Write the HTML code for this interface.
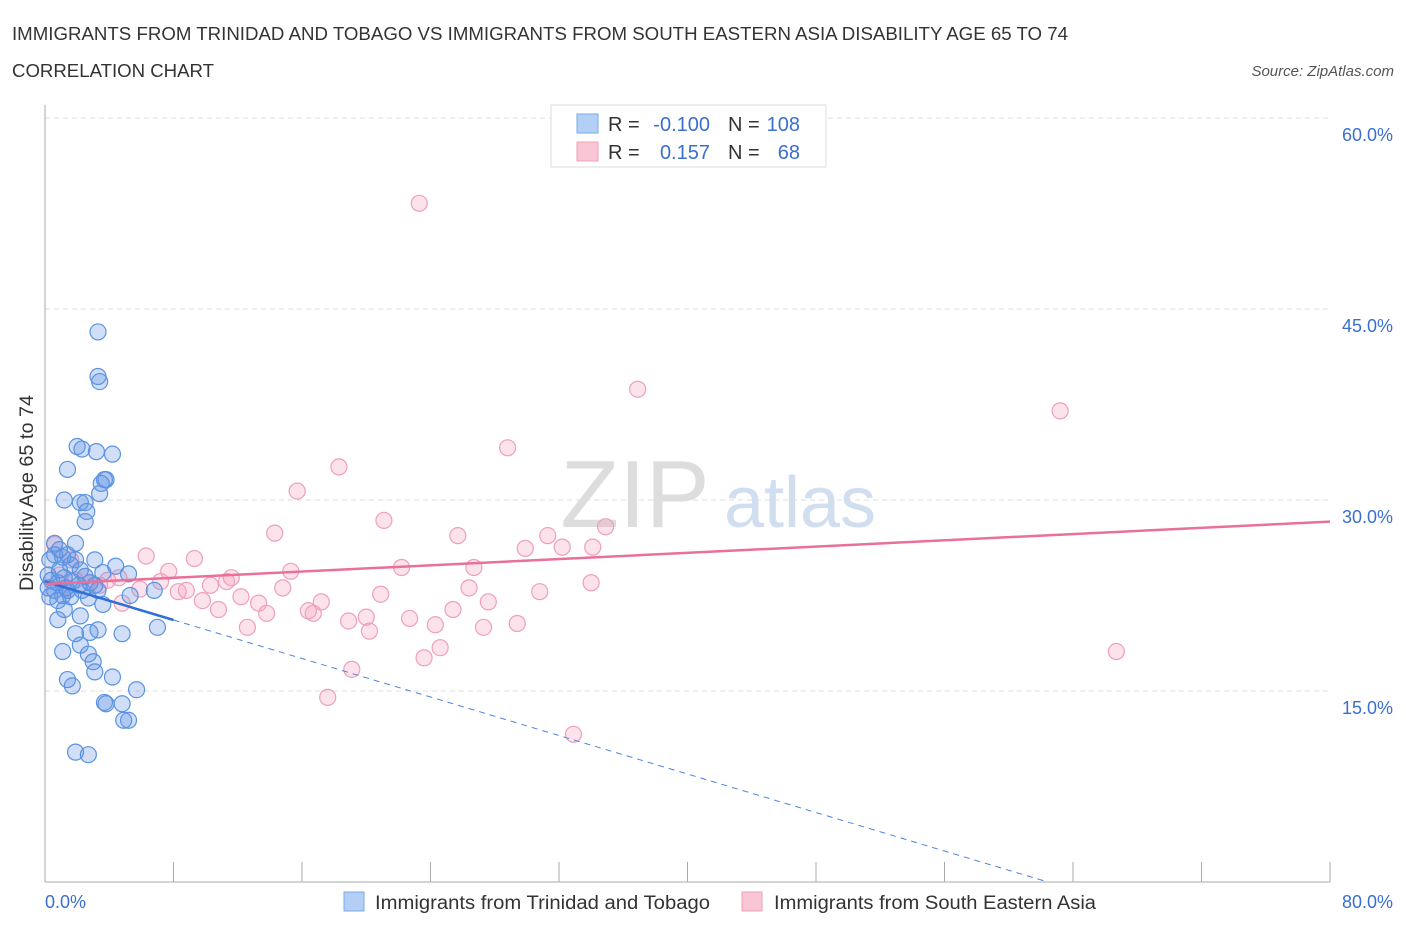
<!DOCTYPE html>
<html><head><meta charset="utf-8"><style>
body{margin:0;background:#fff;font-family:"Liberation Sans",sans-serif;}
svg text{font-family:"Liberation Sans",sans-serif;}
</style></head><body>
<svg id="chart" width="1406" height="930" xmlns="http://www.w3.org/2000/svg">
<text x="12" y="40" font-size="18" fill="#333" textLength="1056" lengthAdjust="spacingAndGlyphs">IMMIGRANTS FROM TRINIDAD AND TOBAGO VS IMMIGRANTS FROM SOUTH EASTERN ASIA DISABILITY AGE 65 TO 74</text>
<text x="12" y="77" font-size="18" fill="#333" textLength="202" lengthAdjust="spacingAndGlyphs">CORRELATION CHART</text>
<text x="1394" y="76" font-size="15" fill="#555" font-style="italic" text-anchor="end">Source: ZipAtlas.com</text>
<g><text x="635" y="527" font-size="96" fill="#ddd" font-family="Liberation Serif" text-anchor="middle">ZIP</text><text x="800" y="527" font-size="72" fill="#d0def0" text-anchor="middle">atlas</text></g>
<g id="grid"></g>
<g id="axes"></g>
<g id="pts"></g>
<g id="trend"></g>
<g>
<rect x="551" y="105" width="275" height="62" fill="#fff" stroke="#ddd"/>
<rect x="577" y="114" width="21" height="19" fill="#b4cff5" stroke="#7aa8e8"/>
<rect x="577" y="142" width="21" height="19" fill="#f9c6d5" stroke="#eea0b8"/>
<text x="608" y="131" font-size="20" fill="#333">R = </text><text x="710" y="131" font-size="20" fill="#3a6fd0" text-anchor="end">-0.100</text>
<text x="728" y="131" font-size="20" fill="#333">N = </text><text x="800" y="131" font-size="20" fill="#3a6fd0" text-anchor="end">108</text>
<text x="608" y="159" font-size="20" fill="#333">R = </text><text x="710" y="159" font-size="20" fill="#3a6fd0" text-anchor="end">0.157</text>
<text x="728" y="159" font-size="20" fill="#333">N = </text><text x="800" y="159" font-size="20" fill="#3a6fd0" text-anchor="end">68</text>
</g>
<g>
<rect x="344" y="892" width="20" height="19" fill="#b4cff5" stroke="#7aa8e8"/>
<text x="375" y="909" font-size="19" fill="#333" textLength="335" lengthAdjust="spacingAndGlyphs">Immigrants from Trinidad and Tobago</text>
<rect x="742" y="892" width="20" height="19" fill="#f9c6d5" stroke="#eea0b8"/>
<text x="774" y="909" font-size="19" fill="#333" textLength="322" lengthAdjust="spacingAndGlyphs">Immigrants from South Eastern Asia</text>
</g>
<text transform="translate(33,493) rotate(-90)" font-size="19" fill="#333" text-anchor="middle" textLength="196" lengthAdjust="spacingAndGlyphs">Disability Age 65 to 74</text>
</svg>
<script>
const blueX=[3.3,3.3,3.4,2.0,2.3,3.2,4.2,1.4,3.7,3.8,3.5,3.4,1.2,2.2,2.5,2.6,2.5,1.9,0.6,0.9,3.1,4.4,5.2,3.6,1.4,3.3,6.8,5.3,2.7,3.6,1.2,2.2,0.8,7.0,1.9,2.8,3.3,4.8,2.2,1.1,2.7,3.0,3.1,4.2,1.4,1.7,5.7,3.7,3.8,4.8,4.9,5.2,1.9,2.7,0.3,0.6,1.1,1.6,0.2,0.4,0.8,1.2,1.7,2.1,2.5,2.8,0.6,1.1,0.3,1.6,1.9,2.2,0.9,0.2,1.4,2.3,0.8,3.1,1.3];
const blueY=[43.2,39.7,39.3,34.2,34.0,33.8,33.6,32.4,31.6,31.6,31.3,30.5,30.0,29.8,29.8,29.1,28.3,26.6,26.6,26.1,25.3,24.8,24.2,24.3,22.9,22.9,22.9,22.5,22.3,21.8,21.4,20.9,20.6,20.0,19.5,19.6,19.8,19.5,18.6,18.1,17.9,17.3,16.5,16.1,15.9,15.4,15.1,14.1,14.0,14.0,12.7,12.7,10.2,10.0,25.3,25.7,25.5,24.9,24.1,23.7,23.5,23.9,23.6,23.3,24.0,23.5,22.9,22.5,22.4,22.4,25.3,24.5,24.5,23.1,25.7,22.9,22.1,23.3,23.1];
const pinkX=[23.3,36.9,63.2,28.8,18.3,15.7,21.1,34.9,14.3,25.7,31.3,29.9,32.2,34.1,6.3,9.3,22.2,26.7,15.3,7.7,11.6,7.2,11.3,4.6,3.9,34.0,10.3,14.8,26.4,8.8,8.3,5.9,12.2,20.9,30.8,9.8,13.3,17.2,27.6,4.8,10.8,13.8,16.4,16.7,25.4,20.0,18.9,22.7,24.3,29.4,27.3,12.6,20.2,24.6,23.6,66.7,19.1,17.6,32.9,0.6,1.6,0.9,1.9,2.8,3.4,1.4,2.5];
const pinkY=[53.3,38.7,37.0,34.1,32.6,30.7,28.4,27.9,27.4,27.2,27.2,26.2,26.3,26.3,25.6,25.4,24.7,24.7,24.4,24.4,23.9,23.6,23.6,23.9,23.7,23.5,23.3,23.1,23.1,22.9,22.8,23.0,22.4,22.6,22.8,22.1,21.9,22.0,22.0,21.9,21.4,21.1,21.3,21.1,21.4,20.8,20.5,20.7,20.2,20.3,20.0,20.0,19.7,18.4,17.6,18.1,16.7,14.5,11.6,26.5,25.3,24.1,23.7,23.5,23.3,22.9,24.0];
const yTicks=[15,30,45,60];
const xTicks=[0,8,16,24,32,40,48,56,64,72,80];
const blueTrend=[23.6,-0.378];
const pinkTrend=[23.4,0.0613];
const NS='http://www.w3.org/2000/svg';
const sx=v=>45+v*1285/80, sy=v=>882-v*764/60;
function mk(p,t,a){const e=document.createElementNS(NS,t);for(const k in a)e.setAttribute(k,a[k]);p.appendChild(e);return e;}
const grid=document.getElementById('grid'),axes=document.getElementById('axes'),pts=document.getElementById('pts'),tr=document.getElementById('trend');
yTicks.forEach(v=>{const l=mk(grid,'line',{x1:45,x2:1330,y1:sy(v),y2:sy(v),stroke:'#ddd','stroke-dasharray':'5,4'});


const t=mk(axes,'text',{x:1393,y:sy(v)+23,'font-size':18,fill:'#3a6fd0','text-anchor':'end'});t.textContent=v.toFixed(1)+'%';

});
const ya=mk(axes,'line',{x1:45,x2:45,y1:105,y2:882,stroke:'#aaa'});


const xa=mk(axes,'line',{x1:45,x2:1330,y1:882,y2:882,stroke:'#aaa'});


xTicks.forEach(v=>{const l=mk(axes,'line',{x1:sx(v),x2:sx(v),y1:862,y2:882,stroke:'#aaa'});

});
[[0,'start'],[80,'end']].forEach(([v,a])=>{const t=mk(axes,'text',{x:v?1393:45,y:908,'font-size':18,fill:'#3a6fd0','text-anchor':a});t.textContent=v.toFixed(1)+'%';

});
pinkX.forEach((x,i)=>{const c=mk(pts,'circle',{cx:sx(x),cy:sy(pinkY[i]),r:8,fill:'rgba(244,160,190,0.3)',stroke:'#ee9fbb','stroke-width':1.2});

});
blueX.forEach((x,i)=>{const c=mk(pts,'circle',{cx:sx(x),cy:sy(blueY[i]),r:8,fill:'rgba(100,150,230,0.3)',stroke:'#5a93e2','stroke-width':1.2});

});
const bEnd=-blueTrend[0]/blueTrend[1];
let l=mk(tr,'line',{x1:sx(0),y1:sy(blueTrend[0]),x2:sx(8),y2:sy(blueTrend[0]+8*blueTrend[1]),stroke:'#2f6fd6','stroke-width':2.5});


l=mk(tr,'line',{x1:sx(8),y1:sy(blueTrend[0]+8*blueTrend[1]),x2:sx(bEnd),y2:sy(0),stroke:'#4a86de','stroke-width':1,'stroke-dasharray':'6,5'});


l=mk(tr,'line',{x1:sx(0),y1:sy(pinkTrend[0]),x2:sx(80),y2:sy(pinkTrend[0]+80*pinkTrend[1]),stroke:'#e8709a','stroke-width':2.5});


</script>
</body></html>
